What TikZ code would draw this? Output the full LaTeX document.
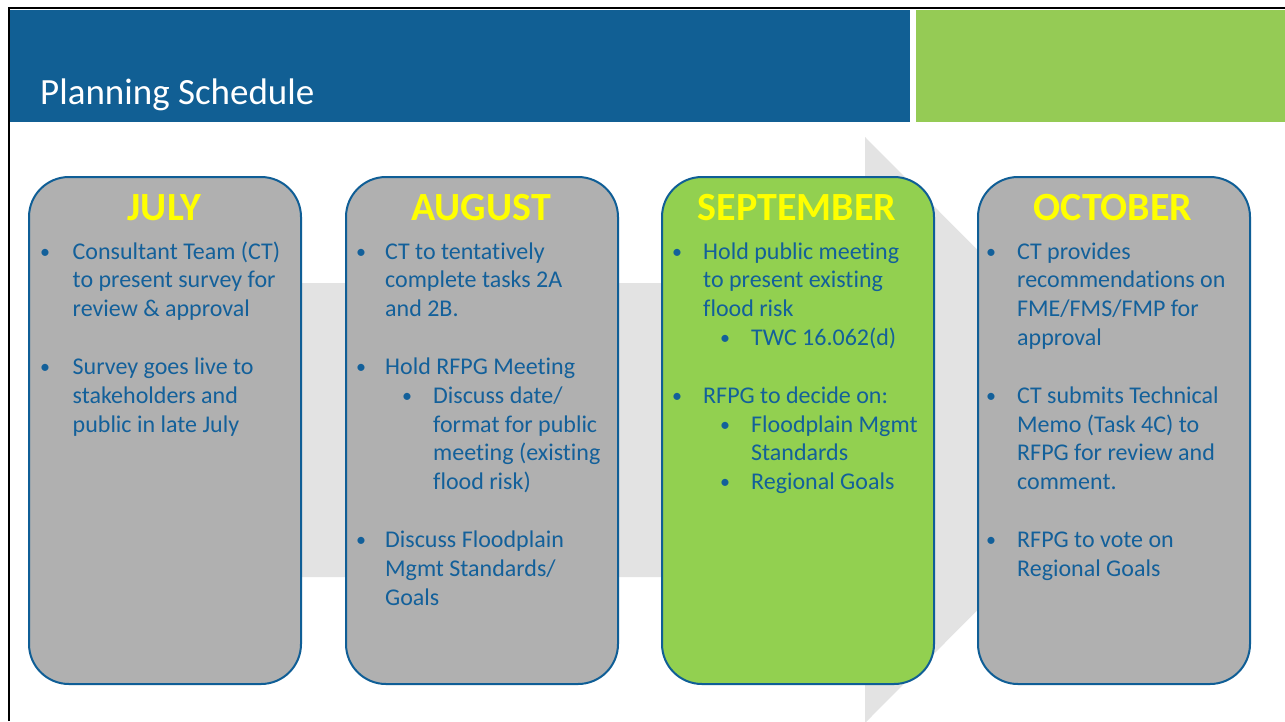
\documentclass[tikz,border=0pt]{standalone}
\usepackage{fontspec}
\setmainfont{Carlito}[Ligatures=NoCommon]
\definecolor{hdrblue}{HTML}{115F94}
\definecolor{hdrgreen}{HTML}{95CB55}
\definecolor{arrowgray}{HTML}{E3E3E3}
\definecolor{cardgray}{HTML}{B0B0B0}
\definecolor{cardgreen}{HTML}{92D050}
\definecolor{cardline}{HTML}{0F5E96}
\definecolor{txtblue}{HTML}{13609A}
\definecolor{ttlyellow}{HTML}{FFFF00}
\begin{document}
\begin{tikzpicture}[x=1pt,y=-1pt,
  card/.style={draw=cardline, line width=2pt, rounded corners=40pt, fill=cardgray,
    minimum width=272pt, minimum height=507pt, anchor=north west, inner sep=0pt},
  mtitle/.style={font=\fontsize{40}{48}\selectfont\bfseries, text=ttlyellow, anchor=base, inner sep=0pt},
  body/.style={font=\fontsize{24}{28.85}\selectfont, text=txtblue, align=left, anchor=base west, inner sep=0pt},
  bul/.style={font=\fontsize{20}{24}\selectfont, text=txtblue, anchor=base, inner sep=0pt, yshift=1pt}]
\useasboundingbox (0,0) rectangle (1285,721);
\fill[white] (0,0) rectangle (1285,721);
% header
\fill[hdrblue] (10,9.5) rectangle (910,122);
\fill[hdrgreen] (916,9.5) rectangle (1285,122);
\draw[line width=2.5pt] (9,721) -- (9,8) -- (1285,8);
\node[font=\fontsize{37}{44}\selectfont, text=white, anchor=base west, inner sep=0pt] (title) at (40,104) {Planning Schedule};
% background arrow
\fill[arrowgray] (100,283) -- (865,283) -- (865,137) -- (1157,430) -- (865,723) -- (865,577) -- (100,577) -- cycle;
% cards
\node[card] (july) at (28,176) {};
\node[card] (aug) at (345,176) {};
\node[card, fill=cardgreen] (sep) at (661,176) {};
\node[card] (oct) at (977,176) {};
% titles
\node[mtitle] (julyT) at (164.5,220) {JULY};
\node[mtitle] (augT) at (481,220) {AUGUST};
\node[mtitle] (sepT) at (797,220) {SEPTEMBER};
\node[mtitle] (octT) at (1113,220) {OCTOBER};
% (body nodes are anchored at the baseline of their last line)
% JULY
\node[bul] (jb1) at (45,259) {•};
\node[body] (jt1) at (72.5,316.7) {Consultant Team (CT)\\to present survey for\\review \& approval};
\node[bul] (jb2) at (45,374.4) {•};
\node[body] (jt2) at (72.5,432.1) {Survey goes live to\\stakeholders and\\public in late July};
% AUGUST
\node[bul] (ab1) at (361,259) {•};
\node[body] (at1) at (385,316.7) {CT to tentatively\\complete tasks 2A\\and 2B.};
\node[bul] (ab2) at (361,374.4) {•};
\node[body] (at2) at (385,374.4) {Hold RFPG Meeting};
\node[bul] (ab3) at (407,403.25) {•};
\node[body] (at3) at (433,489.8) {Discuss date/\\format for public\\meeting (existing\\flood risk)};
\node[bul] (ab4) at (361,547.5) {•};
\node[body] (at4) at (385,605.2) {Discuss Floodplain\\Mgmt Standards/\\Goals};
% SEPTEMBER
\node[bul] (sb1) at (677,259) {•};
\node[body] (st1) at (703,316.7) {Hold public meeting\\to present existing\\flood risk};
\node[bul] (sb2) at (725,345.55) {•};
\node[body] (st2) at (751,345.55) {TWC 16.062(d)};
\node[bul] (sb3) at (677,403.25) {•};
\node[body] (st3) at (703,403.25) {RFPG to decide on:};
\node[bul] (sb4) at (725,432.1) {•};
\node[body] (st4) at (751,460.95) {Floodplain Mgmt\\Standards};
\node[bul] (sb5) at (725,489.8) {•};
\node[body] (st5) at (751,489.8) {Regional Goals};
% OCTOBER
\node[bul] (ob1) at (991,259) {•};
\node[body] (ot1) at (1017,345.55) {CT provides\\recommendations on\\FME/FMS/FMP for\\approval};
\node[bul] (ob2) at (991,403.25) {•};
\node[body] (ot2) at (1017,489.8) {CT submits Technical\\Memo (Task 4C) to\\RFPG for review and\\comment.};
\node[bul] (ob3) at (991,547.5) {•};
\node[body] (ot3) at (1017,576.35) {RFPG to vote on\\Regional Goals};
\end{tikzpicture}
\end{document}
